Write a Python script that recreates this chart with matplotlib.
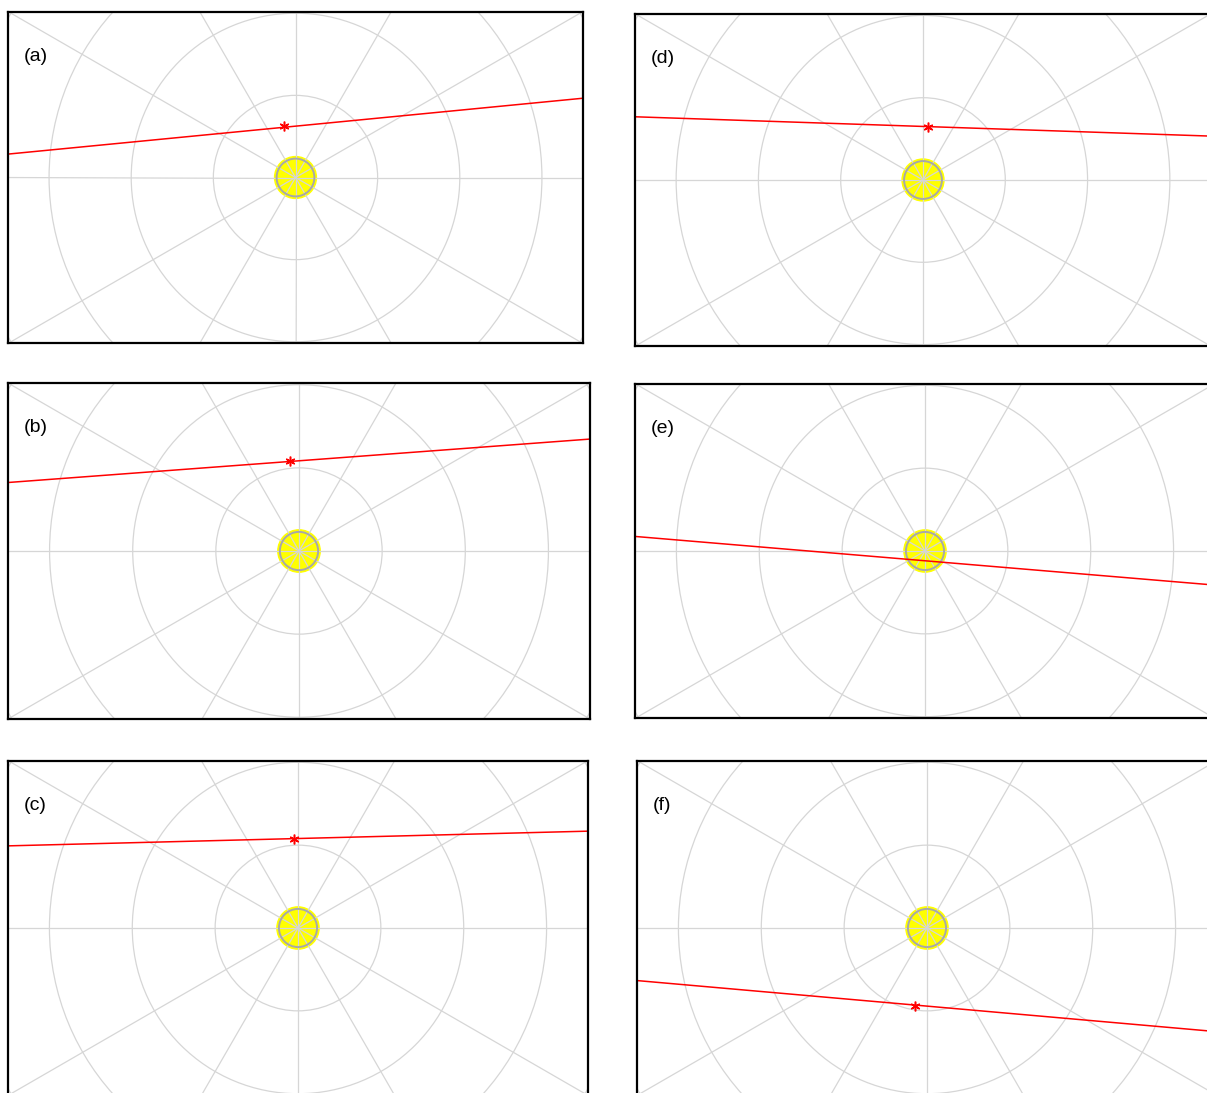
import numpy as np
import matplotlib
matplotlib.use("Agg")
import matplotlib.pyplot as plt
from matplotlib.patches import Circle

plt.rcParams['font.family'] = ['Liberation Sans', 'DejaVu Sans']

# -----------------------------
# Data
# -----------------------------
labels = ['(a)', '(b)', '(c)', '(d)', '(e)', '(f)']

# red path: end points (x in ring units, sun at origin)
path_x0 = [-3.55, -3.55, -3.55, -3.55, -3.55, -3.55]
path_y0 = [0.28, 0.82, 0.99, 0.77, 0.18, -0.63]
path_x1 = [3.55, 3.55, 3.55, 3.6, 3.6, 3.6]
path_y1 = [0.97, 1.35, 1.17, 0.53, -0.42, -1.26]

# red asterisk (body position); (e) is behind the sun
body_x = [-0.135, -0.11, -0.05, 0.06, np.nan, -0.15]
body_y = [0.63, 1.08, 1.08, 0.65, np.nan, -0.94]

ring_radii = [1, 2, 3, 4]
spoke_angles = np.arange(0, 360, 30)
sun_radius = 0.255

# panel layout in pixels: centre x, centre y, half width
W, H = 1207, 1093
panel_px = [(295.5, 177.5, 287.5), (299, 551, 291), (298, 928, 290),
            (923, 180, 288), (925, 551, 290), (927, 928, 290)]

XLIM = 3.5
YLIM = XLIM * np.tan(np.radians(30))

fig = plt.figure(figsize=(W / 100, H / 100), dpi=100)

for i, lab in enumerate(labels):
    cx, cy, hw = panel_px[i]
    hh = hw * np.tan(np.radians(30))
    ax = fig.add_axes([(cx - hw) / W, (H - cy - hh) / H, 2 * hw / W, 2 * hh / H])
    ax.set_xlim(-XLIM, XLIM)
    ax.set_ylim(-YLIM, YLIM)
    ax.set_xticks([])
    ax.set_yticks([])
    for sp in ax.spines.values():
        sp.set_linewidth(1.6)
        sp.set_color('black')
        sp.set_zorder(10)

    # sun
    ax.add_patch(Circle((0, 0), sun_radius, facecolor='yellow', edgecolor='yellow',
                        lw=1, zorder=1))
    ax.add_patch(Circle((0, 0), sun_radius - 0.025, facecolor='none', edgecolor='0.66',
                        lw=1.4, zorder=2))

    # polar grid
    for r in ring_radii:
        ax.add_patch(Circle((0, 0), r, facecolor='none', edgecolor='0.84', lw=0.9, zorder=1.5))
    for a in spoke_angles:
        t = np.radians(a)
        ax.plot([0, 6 * np.cos(t)], [0, 6 * np.sin(t)], color='0.84', lw=0.9, zorder=1.5)

    # path and body
    ax.plot([path_x0[i], path_x1[i]], [path_y0[i], path_y1[i]], color='red', lw=1.1, zorder=3)
    ax.plot(body_x[i], body_y[i], marker=(6, 2, 0), color='red', ms=7, mew=1.1, zorder=4)

    ax.annotate(lab, xy=(0, 1), xycoords='axes fraction', xytext=(16, -45),
                textcoords='offset pixels', fontsize=14, va='center', ha='left')

fig.savefig('out.png', dpi=100)
